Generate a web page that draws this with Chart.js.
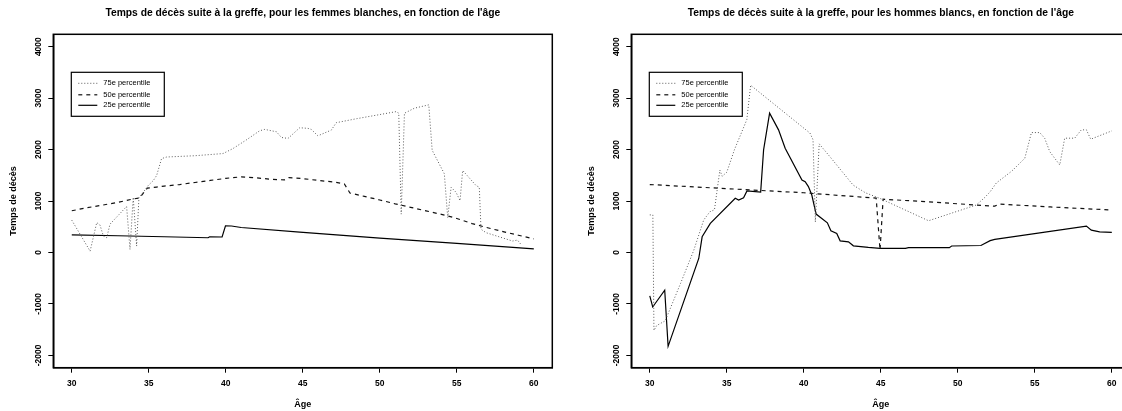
<!DOCTYPE html>
<html>
<head>
<meta charset="utf-8">
<script src="https://cdn.jsdelivr.net/npm/chart.js@4.4.1/dist/chart.umd.min.js"></script>
<style>
  body { margin: 0; background: #fff; width: 1122px; height: 411px; overflow: hidden; position: relative; }
  .panel { position: absolute; top: 0; width: 570px; height: 411px; }
</style>
</head>
<body>
<div class="panel" style="left:0"><canvas id="femmes" width="570" height="411"></canvas></div>
<div class="panel" style="left:578px"><canvas id="hommes" width="570" height="411"></canvas></div>
<script>
// data block
const xTicks = [30, 35, 40, 45, 50, 55, 60];
const yTicks = [-2000, -1000, 0, 1000, 2000, 3000, 4000];
const labels = ["75e percentile", "50e percentile", "25e percentile"];

// femmes blanches
const f75Age = [30.0, 31.19, 31.62, 31.83, 32.05, 32.27, 32.48, 33.56, 33.78, 33.99, 34.21, 34.36, 34.64, 34.96, 35.3, 35.51, 35.83, 36.16, 38.0, 39.82, 40.47, 41.3, 42.2, 42.53, 43.29, 43.61, 44.04, 44.8, 45.33, 45.55, 45.98, 46.85, 47.17, 48.5, 50.0, 51.06, 51.23, 51.39, 51.6, 52.25, 53.18, 53.4, 54.19, 54.41, 54.63, 54.95, 55.21, 55.38, 56.25, 56.46, 56.57, 56.9, 58.62, 58.94, 59.16];
const f75Val = [627, 25, 580, 535, 320, 286, 549, 894, 59, 1071, 124, 1071, 1169, 1300, 1400, 1496, 1824, 1855, 1880, 1922, 2020, 2180, 2365, 2392, 2345, 2235, 2216, 2424, 2412, 2392, 2267, 2378, 2522, 2600, 2680, 2737, 2706, 745, 2706, 2804, 2869, 1986, 1529, 678, 1267, 1169, 1006, 1594, 1300, 1267, 451, 384, 222, 241, 157];
const f50Age = [30, 31, 32, 33, 34, 34.4, 34.9, 35.5, 36, 37, 38, 39, 40, 41, 42, 43, 43.8, 44.1, 45, 46, 47, 47.7, 48.06, 49, 50, 51, 52, 53, 54, 54.4, 55, 56, 57, 58, 59, 60];
const f50Val = [810, 870, 920, 975, 1040, 1060, 1250, 1270, 1290, 1320, 1360, 1400, 1440, 1470, 1450, 1420, 1410, 1455, 1435, 1400, 1370, 1330, 1156, 1090, 1020, 945, 877, 808, 740, 712, 660, 560, 480, 405, 335, 265];
const f25Age = [30, 33, 36, 38.85, 38.95, 39.76, 39.98, 40.37, 41, 44.8, 50, 55, 60];
const f25Val = [340, 325, 305, 286, 305, 300, 516, 514, 485, 395, 280, 175, 68];

// hommes blancs
const h75Age = [30, 30.2, 30.27, 30.45, 31.0, 32.0, 32.86, 33.5, 33.9, 34.2, 34.55, 34.7, 35.0, 35.5, 36.3, 36.55, 40.4, 40.6, 40.75, 41.0, 41.7, 43.2, 44.0, 44.95, 48.1, 51.2, 51.76, 52.1, 52.5, 53.5, 54.35, 54.78, 55.32, 55.64, 55.97, 56.62, 56.94, 57.59, 58.02, 58.35, 58.63, 60];
const h75Val = [730, 730, -1515, -1420, -1330, -600, 45, 630, 790, 830, 1600, 1480, 1560, 2000, 2580, 3250, 2320, 2190, 590, 2110, 1860, 1310, 1160, 1050, 616, 922, 1071, 1180, 1350, 1580, 1830, 2330, 2330, 2220, 1960, 1700, 2221, 2221, 2383, 2383, 2201, 2363];
const h50Age = [30, 35, 40, 44.7, 44.95, 45.15, 48, 51.2, 52.4, 52.7, 56, 60];
const h50Val = [1320, 1240, 1160, 1055, 45, 1035, 985, 922, 900, 940, 885, 825];
const h25Age = [30, 30.19, 30.97, 31.19, 33.18, 33.4, 33.93, 35.55, 35.77, 36.09, 36.31, 37.2, 37.39, 37.78, 38.36, 38.79, 39.88, 40.09, 40.3, 40.52, 40.8, 41.53, 41.76, 42.14, 42.36, 42.9, 43.22, 44.19, 44.95, 46.6, 46.8, 49.45, 49.6, 51.5, 52.1, 52.4, 58.35, 58.67, 59.21, 60];
const h25Val = [-845, -1060, -734, -1825, -117, 304, 565, 1052, 1019, 1064, 1197, 1172, 1993, 2708, 2383, 2026, 1408, 1375, 1279, 1116, 746, 577, 421, 370, 226, 207, 129, 97, 78, 78, 92, 92, 125, 135, 230, 253, 512, 434, 401, 390];

// styles
const font = "'Liberation Sans', Arial, Helvetica, sans-serif";
const styles = [
  { color: "#5a5a5a", dash: [1, 2], width: 1 },
  { color: "#111", dash: [4, 4], width: 1.2 },
  { color: "#000", dash: [], width: 1.2 },
];

function points(ages, vals) {
  return ages.map((a, i) => ({ x: a, y: vals[i] }));
}

// title centred on the plot, box round the plot, legend
const boxPlugin = {
  id: "rbox",
  afterDraw(chart) {
    const { ctx, chartArea: ca } = chart;
    ctx.save();
    ctx.fillStyle = "#000";
    ctx.font = "bold 10.3px " + font;
    ctx.textAlign = "center";
    ctx.textBaseline = "middle";
    ctx.fillText(chart.options.plotTitle, (ca.left + ca.right) / 2, 12.7);

    ctx.strokeStyle = "#000";
    ctx.lineWidth = 1.5;
    ctx.setLineDash([]);
    ctx.strokeRect(ca.left, ca.top, ca.right - ca.left, ca.bottom - ca.top);

    const lx = ca.left + 18, ly = ca.top + 38, lw = 93, lh = 44;
    ctx.lineWidth = 1.2;
    ctx.strokeRect(lx, ly, lw, lh);
    ctx.font = "7.5px " + font;
    ctx.textAlign = "left";
    const rows = [11, 22.5, 33];
    chart.data.datasets.forEach((ds, i) => {
      const y = ly + rows[i];
      ctx.beginPath();
      ctx.strokeStyle = ds.borderColor;
      ctx.lineWidth = ds.borderWidth;
      ctx.setLineDash(ds.borderDash);
      ctx.moveTo(lx + 7, y);
      ctx.lineTo(lx + 26, y);
      ctx.stroke();
      ctx.setLineDash([]);
      ctx.fillText(ds.label, lx + 32, y);
    });
    ctx.restore();
  },
};

function makeChart(id, title, series) {
  const datasets = series.map((s, i) => ({
    label: labels[i],
    data: points(s[0], s[1]),
    borderColor: styles[i].color,
    borderDash: styles[i].dash,
    borderWidth: styles[i].width,
    pointRadius: 0,
    fill: false,
    tension: 0,
  }));

  return new Chart(document.getElementById(id), {
    type: "line",
    data: { datasets },
    plugins: [boxPlugin],
    options: {
      plotTitle: title,
      responsive: false,
      animation: false,
      layout: { padding: { left: 0, right: 17.7, top: 34.3, bottom: 0 } },
      plugins: {
        legend: { display: false },
        tooltip: { enabled: false },
        title: { display: false },
      },
      scales: {
        x: {
          type: "linear",
          min: 28.8,
          max: 61.2,
          afterBuildTicks: (s) => { s.ticks = xTicks.map((v) => ({ value: v })); },
          afterFit: (s) => { s.height = 43.3; },
          grid: { display: true, drawOnChartArea: false, drawTicks: true, tickLength: 5, color: "#000", lineWidth: 1 },
          border: { display: true, color: "#000", width: 1.5 },
          ticks: { color: "#000", autoSkip: false, maxRotation: 0, padding: 6.2, font: { family: font, size: 8.5, weight: "bold" }, callback: (v) => String(v) },
          title: { display: true, text: "Âge", color: "#000", font: { family: font, size: 9, weight: "bold" }, padding: { top: 0, bottom: 0.6 } },
        },
        y: {
          type: "linear",
          min: -2240,
          max: 4240,
          afterBuildTicks: (s) => { s.ticks = yTicks.map((v) => ({ value: v })); },
          afterFit: (s) => { s.width = 53.3; },
          grid: { display: true, drawOnChartArea: false, drawTicks: true, tickLength: 5, color: "#000", lineWidth: 1 },
          border: { display: true, color: "#000", width: 1.5 },
          ticks: { color: "#000", autoSkip: false, minRotation: 90, maxRotation: 90, crossAlign: "center", padding: -1, font: { family: font, size: 8.5, weight: "bold" }, callback: (v) => String(v) },
          title: { display: true, text: "Temps de décès", color: "#000", font: { family: font, size: 9, weight: "bold" }, padding: { top: 8, bottom: 0 } },
        },
      },
    },
  });
}

makeChart("femmes", "Temps de décès suite à la greffe, pour les femmes blanches, en fonction de l'âge",
  [[f75Age, f75Val], [f50Age, f50Val], [f25Age, f25Val]]);
makeChart("hommes", "Temps de décès suite à la greffe, pour les hommes blancs, en fonction de l'âge",
  [[h75Age, h75Val], [h50Age, h50Val], [h25Age, h25Val]]);
</script>
</body>
</html>
